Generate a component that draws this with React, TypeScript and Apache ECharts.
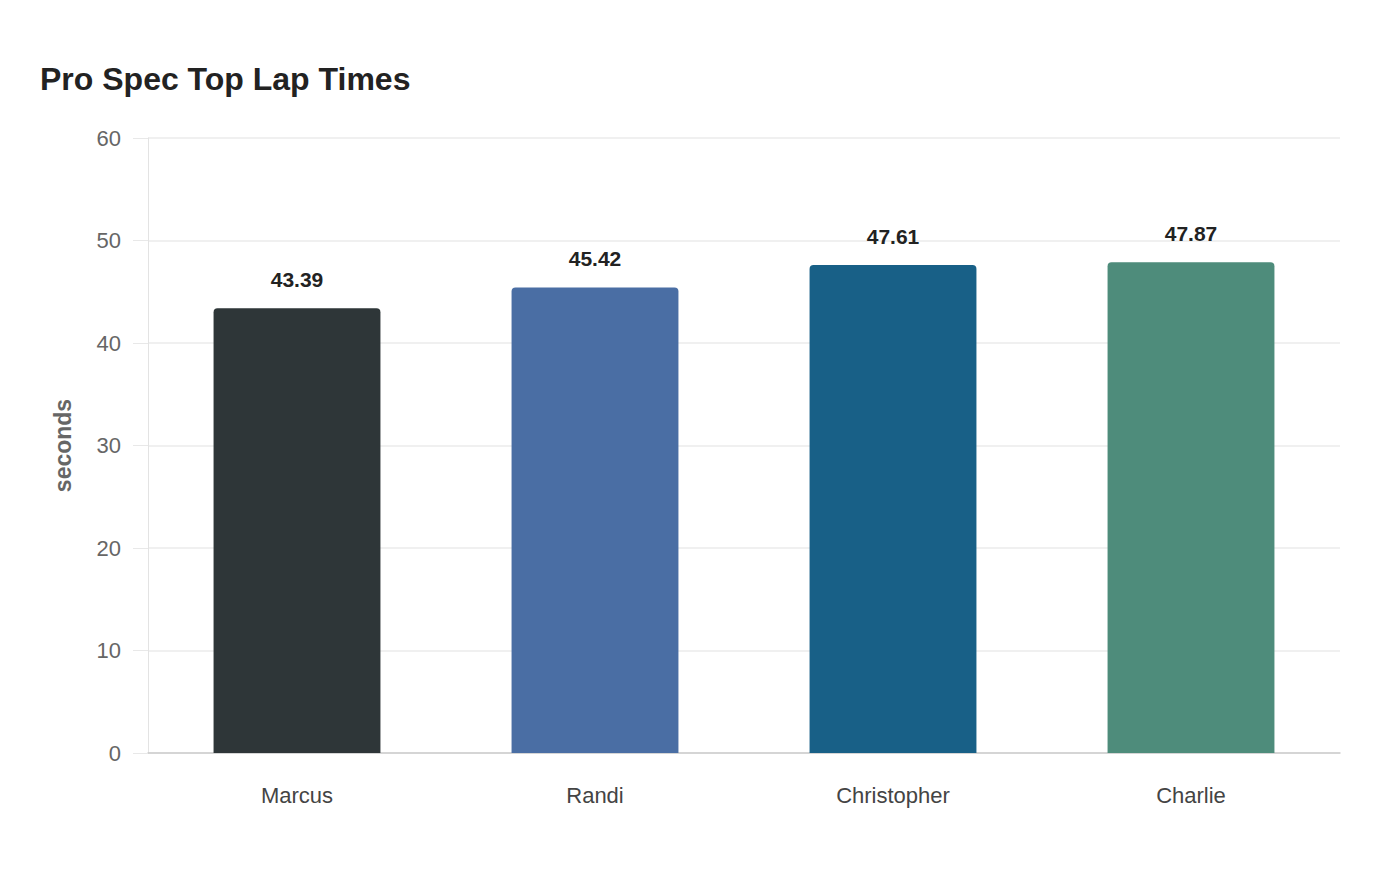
import React, { useEffect, useRef } from "react";
import * as echarts from "echarts";

const categories = ["Marcus", "Randi", "Christopher", "Charlie"];
const lapTimes = [43.39, 45.42, 47.61, 47.87];
const barColors = ["#2e3638", "#4a6ea4", "#186087", "#4e8c7b"];
const yTicks = { min: 0, max: 60, interval: 10 };

export default function App() {
  const ref = useRef<HTMLDivElement>(null);
  useEffect(() => {
    if (!ref.current) return;
    const chart = echarts.init(ref.current, null, { renderer: "svg" });
    const font = "'Liberation Sans', Arial, Helvetica, sans-serif";
    chart.setOption({
      animation: false,
      backgroundColor: "#ffffff",
      textStyle: { fontFamily: font },
      title: {
        text: "Pro Spec Top Lap Times",
        left: 35,
        top: 58,
        textStyle: { fontSize: 32, fontWeight: "bold", color: "#222222", fontFamily: font },
      },
      grid: { left: 148, right: 60, top: 138, bottom: 127 },
      xAxis: {
        type: "category",
        data: categories,
        axisLine: { show: true, lineStyle: { color: "#cccccc", width: 1.5 } },
        axisTick: { show: false },
        axisLabel: { margin: 31, fontSize: 22, color: "#444444", fontFamily: font },
      },
      yAxis: {
        type: "value",
        min: yTicks.min,
        max: yTicks.max,
        interval: yTicks.interval,
        name: "seconds",
        nameLocation: "middle",
        nameGap: 74,
        nameTextStyle: { fontSize: 23, fontWeight: "bold", color: "#666666", fontFamily: font },
        axisLine: { show: true, lineStyle: { color: "#e3e3e3", width: 1 } },
        axisTick: { show: true, length: 15, lineStyle: { color: "#e8e8e8" } },
        axisLabel: { margin: 27, fontSize: 22, color: "#666666", fontFamily: font },
        splitLine: { show: true, lineStyle: { color: "#ebebeb", width: 1.5 } },
      },
      series: [
        {
          type: "bar",
          data: lapTimes.map((v, i) => ({ value: v, itemStyle: { color: barColors[i] } })),
          barWidth: "56%",
          itemStyle: { borderRadius: [4, 4, 0, 0] },
          label: {
            show: true,
            position: "top",
            distance: 18,
            fontSize: 21,
            fontWeight: "bold",
            color: "#222222",
            fontFamily: font,
            formatter: (p: any) => p.value.toFixed(2),
          },
        },
      ],
    });
    return () => chart.dispose();
  }, []);
  return (
    <div
      ref={ref}
      style={{ position: "absolute", left: 0, top: 0, width: 1400, height: 880 }}
    />
  );
}
